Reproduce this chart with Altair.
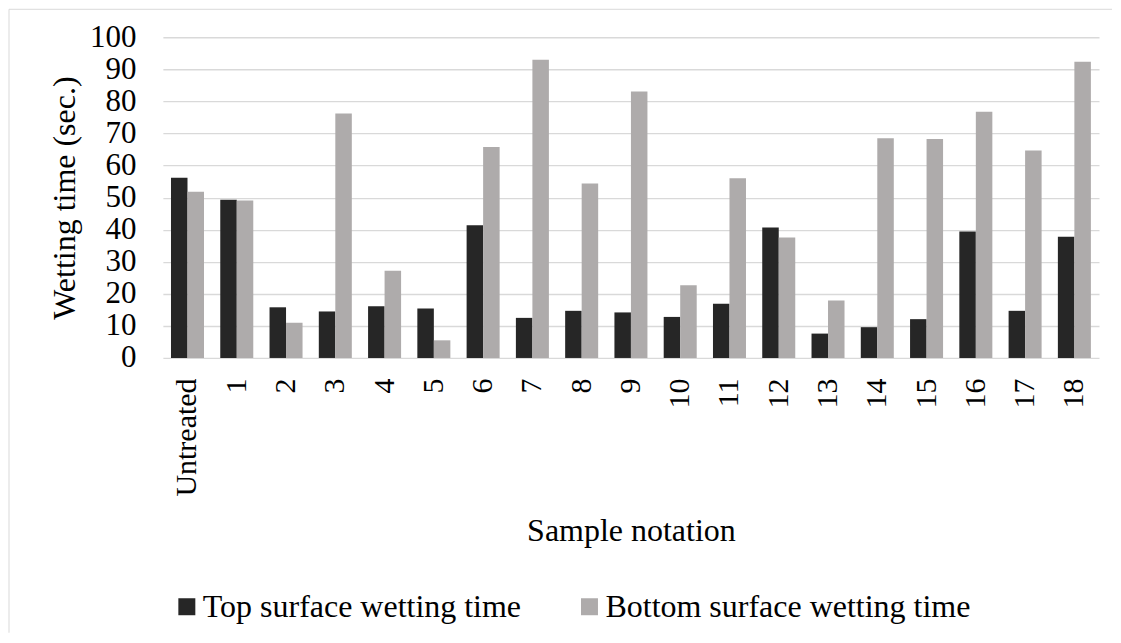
import altair as alt
import pandas as pd

categories = ["Untreated", "1", "2", "3", "4", "5", "6", "7", "8", "9",
              "10", "11", "12", "13", "14", "15", "16", "17", "18"]
top_surface = [56.2, 49.3, 15.8, 14.5, 16.1, 15.4, 41.4, 12.5, 14.7, 14.2,
               12.8, 16.9, 40.7, 7.6, 9.6, 12.1, 39.4, 14.7, 37.8]
bottom_surface = [51.8, 49.1, 11.0, 76.2, 27.2, 5.5, 65.8, 93.0, 54.4, 83.1,
                  22.7, 56.0, 37.6, 17.9, 68.5, 68.3, 76.8, 64.7, 92.4]
series_names = ["Top surface wetting time", "Bottom surface wetting time"]
series_colors = ["#262626", "#AEABAB"]
y_ticks = [0, 10, 20, 30, 40, 50, 60, 70, 80, 90, 100]

rows = []
for c, t, b in zip(categories, top_surface, bottom_surface):
    rows.append({"Sample": c, "Series": series_names[0], "Value": t})
    rows.append({"Sample": c, "Series": series_names[1], "Value": b})
df = pd.DataFrame(rows)

FONT = "Liberation Serif, Times New Roman, serif"

bars = alt.Chart(df).mark_bar().encode(
    x=alt.X("Sample:N", sort=categories,
            scale=alt.Scale(paddingInner=0.33, paddingOuter=0.165),
            axis=alt.Axis(title="Sample notation", labelAngle=270,
                          labelFont=FONT, titleFont=FONT,
                          labelFontSize=30, titleFontSize=32,
                          labelPadding=20, titlePadding=19,
                          ticks=False, domain=False, grid=False,
                          labelColor="#000000", titleColor="#000000",
                          titleFontWeight="normal")),
    xOffset=alt.XOffset("Series:N", sort=series_names,
                        scale=alt.Scale(paddingInner=0, paddingOuter=0)),
    y=alt.Y("Value:Q", scale=alt.Scale(domain=[0, 100], nice=False),
            axis=alt.Axis(title="Wetting time (sec.)", values=y_ticks,
                          labelFont=FONT, titleFont=FONT,
                          labelFontSize=31, titleFontSize=32,
                          labelPadding=27, titlePadding=8,
                          ticks=False, domain=False,
                          gridColor="#D9D9D9", gridWidth=1.3,
                          labelColor="#000000", titleColor="#000000",
                          titleFontWeight="normal")),
    color=alt.Color("Series:N", sort=series_names,
                    scale=alt.Scale(domain=series_names, range=series_colors),
                    legend=alt.Legend(title=None, orient="none",
                                      direction="horizontal",
                                      legendX=8, legendY=554,
                                      symbolType="square", symbolSize=289,
                                      symbolStrokeWidth=0,
                                      labelFont=FONT, labelFontSize=32,
                                      labelLimit=1000,
                                      labelOffset=0, columnPadding=52,
                                      labelColor="#000000")),
)

frame_data = pd.DataFrame({"k": [0]})
top_line = alt.Chart(frame_data).mark_rule(color="#D9D9D9", strokeWidth=1).encode(
    x=alt.value(-154), x2=alt.value(950), y=alt.value(-28))
left_line = alt.Chart(frame_data).mark_rule(color="#D9D9D9", strokeWidth=1).encode(
    x=alt.value(-154), y=alt.value(-28), y2=alt.value(596))

chart = alt.layer(top_line, left_line, bars).properties(
    width=937, height=321, padding=0
).configure(font=FONT).configure_view(stroke=None)

chart.save("out.html", embed_options={"renderer": "svg", "actions": False})
